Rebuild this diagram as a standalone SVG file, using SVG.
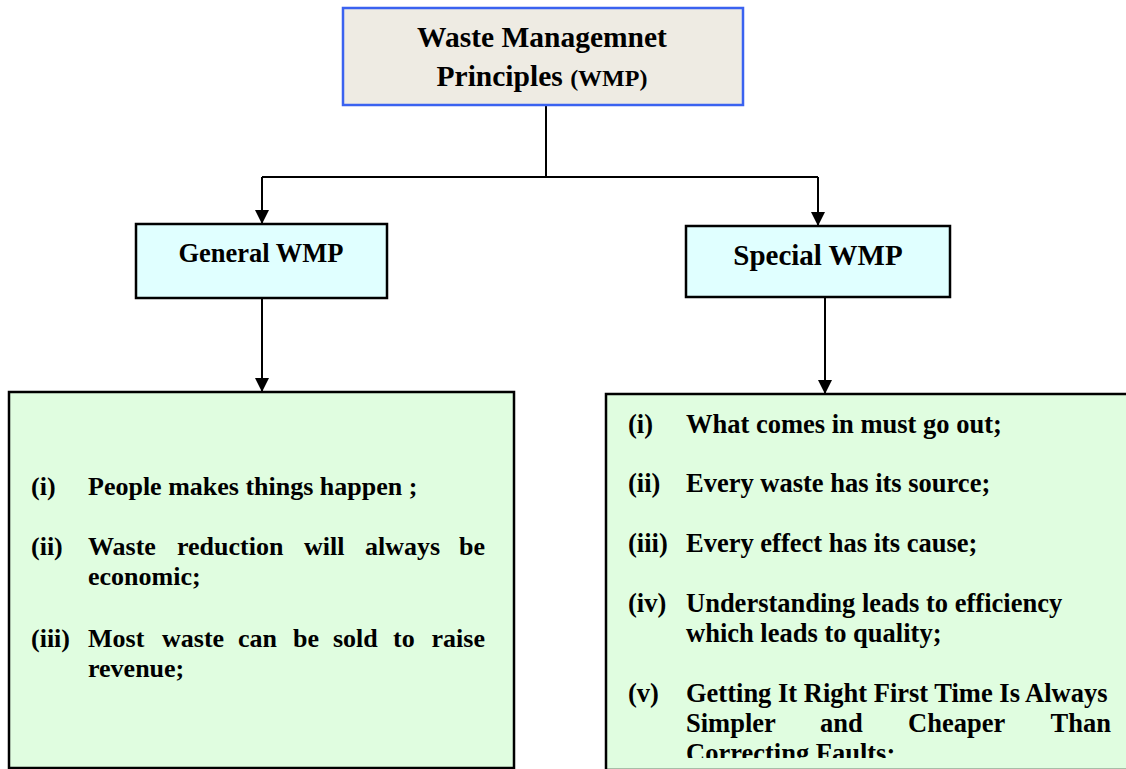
<svg xmlns="http://www.w3.org/2000/svg" width="1126" height="769" viewBox="0 0 1126 769">
<style>
.t{font-family:"Liberation Serif","Times New Roman",serif;font-weight:bold;fill:#000}
.b{stroke:#000;stroke-width:2.5}
.c{fill:none;stroke:#000;stroke-width:2}
</style>
<defs>
<marker id="ah" markerWidth="14" markerHeight="14" refX="14" refY="7" orient="auto" markerUnits="userSpaceOnUse">
<path d="M0,0 L14,7 L0,14 Z" fill="#000"/>
</marker>
<clipPath id="rc"><rect x="606" y="394" width="520" height="364"/></clipPath>
</defs>
<rect width="1126" height="769" fill="#fff"/>
<g id="connectors">
<polyline class="c" points="546,106 546,177"/>
<polyline class="c" points="262,177 818,177"/>
<polyline class="c" points="262,177 262,224" marker-end="url(#ah)"/>
<polyline class="c" points="818,177 818,226" marker-end="url(#ah)"/>
<polyline class="c" points="262,298 262,392" marker-end="url(#ah)"/>
<polyline class="c" points="825,297 825,394" marker-end="url(#ah)"/>
</g>
<g id="wmp">
<rect x="343" y="8" width="400" height="97" fill="#eeebe3" stroke="#3a62f0" stroke-width="2.5"/>
<text class="t" x="542" y="47" font-size="29.5" text-anchor="middle">Waste Managemnet</text>
<text class="t" x="542" y="86" font-size="29.5" text-anchor="middle">Principles <tspan font-size="24">(WMP)</tspan></text>
</g>
<g id="general">
<rect class="b" x="136" y="224" width="251" height="74" fill="#e0ffff"/>
<text class="t" x="261" y="262" font-size="26.5" text-anchor="middle">General WMP</text>
</g>
<g id="special">
<rect class="b" x="686" y="226" width="264" height="71" fill="#e0ffff"/>
<text class="t" x="818" y="265" font-size="29" text-anchor="middle">Special WMP</text>
</g>
<g id="general-list">
<rect class="b" x="9" y="392" width="505" height="376" fill="#e0fde0"/>
<g class="t" font-size="26">
<text x="31" y="495">(i)</text><text x="88" y="495">People makes things happen ;</text>
<text x="31" y="555">(ii)</text>
<text x="88" y="555">Waste</text><text x="177" y="555">reduction</text><text x="304" y="555">will</text><text x="365" y="555">always</text><text x="485" y="555" text-anchor="end">be</text>
<text x="88" y="585">economic;</text>
<text x="31" y="647">(iii)</text>
<text x="88" y="647">Most</text><text x="162" y="647">waste</text><text x="238" y="647">can</text><text x="293" y="647">be</text><text x="333" y="647">sold</text><text x="393" y="647">to</text><text x="485" y="647" text-anchor="end">raise</text>
<text x="88" y="677">revenue;</text>
</g>
</g>
<g id="special-list">
<rect class="b" x="606" y="394" width="530" height="376" fill="#e0fde0"/>
<g class="t" font-size="26.5" clip-path="url(#rc)">
<text x="628" y="433">(i)</text><text x="686" y="433">What comes in must go out;</text>
<text x="628" y="492">(ii)</text><text x="686" y="492">Every waste has its source;</text>
<text x="628" y="552">(iii)</text><text x="686" y="552">Every effect has its cause;</text>
<text x="628" y="612">(iv)</text><text x="686" y="612">Understanding leads to efficiency</text>
<text x="686" y="642">which leads to quality;</text>
<text x="628" y="702">(v)</text><text x="686" y="702">Getting It Right First Time Is Always</text>
<text x="686" y="732">Simpler</text><text x="820" y="732">and</text><text x="908" y="732">Cheaper</text><text x="1111" y="732" text-anchor="end">Than</text>
<text x="686" y="762">Correcting Faults;</text>
</g>
</g>
</svg>
